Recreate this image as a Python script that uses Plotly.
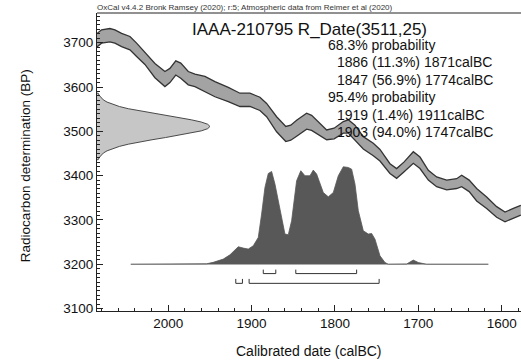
import plotly.graph_objects as go

# ---------------- data ----------------
cal_year = [2088, 2080, 2070, 2064, 2056, 2046, 2038, 2028, 2016, 2004, 1998, 1991, 1985, 1976, 1968,
            1956, 1944, 1928, 1914, 1902, 1890, 1882, 1870, 1859, 1853, 1846, 1834, 1828, 1818, 1810,
            1801, 1790, 1784, 1776, 1766, 1754, 1746, 1734, 1726, 1717, 1706, 1698, 1688, 1678, 1666,
            1654, 1648, 1639, 1630, 1618, 1606, 1596, 1586, 1577]
curve_bp = [3702, 3714, 3717, 3714, 3706, 3699, 3684, 3664, 3637, 3618, 3626, 3643, 3637, 3620, 3615,
            3607, 3595, 3583, 3571, 3571, 3562, 3548, 3516, 3494, 3497, 3507, 3523, 3519, 3504, 3492,
            3495, 3509, 3511, 3497, 3474, 3459, 3446, 3416, 3405, 3420, 3441, 3429, 3401, 3386, 3379,
            3382, 3388, 3377, 3357, 3339, 3318, 3307, 3315, 3322]
curve_err = [15, 15, 15, 15, 15, 15, 15, 13, 16, 17, 16, 16, 17, 15, 14,
             17, 17, 16, 15, 15, 15, 15, 17, 17, 17, 18, 18, 17, 14, 11,
             12, 13, 15, 17, 14, 14, 13, 11, 11, 11, 13, 13, 11, 11, 11,
             11, 13, 13, 14, 13, 12, 11, 11, 11]

post_year = [2045, 1962, 1954, 1946, 1934, 1926, 1916, 1910, 1904, 1898, 1892, 1888, 1884, 1880, 1876,
             1872, 1866, 1860, 1856, 1852, 1846, 1841, 1836, 1830, 1826, 1822, 1814, 1808, 1802, 1796,
             1790, 1784, 1780, 1776, 1772, 1766, 1760, 1756, 1752, 1746, 1740, 1736, 1714, 1706, 1700,
             1690, 1616]
post_prob = [0, 0, 0.005, 0.02, 0.053, 0.097, 0.18, 0.166, 0.156, 0.19, 0.275, 0.515, 0.788, 0.931, 0.952,
             0.823, 0.549, 0.31, 0.303, 0.446, 0.856, 0.959, 0.908, 0.908, 0.966, 0.925, 0.736, 0.692, 0.736, 0.908,
             1.0, 0.993, 0.976, 0.823, 0.549, 0.344, 0.31, 0.316, 0.258, 0.087, 0.018, 0, 0.003, 0.043, 0.018,
             0, 0]

rdate_bp = [3436, 3441, 3446, 3451, 3456, 3461, 3466, 3471, 3476, 3481, 3486, 3491, 3496, 3501, 3506,
            3511, 3516, 3521, 3526, 3531, 3536, 3541, 3546, 3551, 3556, 3561, 3566, 3571, 3576, 3581, 3586]
rdate_dens = [0.011, 0.020, 0.034, 0.056, 0.089, 0.135, 0.198, 0.278, 0.375, 0.487, 0.607, 0.726, 0.835, 0.923, 0.980,
              1.0, 0.980, 0.923, 0.835, 0.726, 0.607, 0.487, 0.375, 0.278, 0.198, 0.135, 0.089, 0.056, 0.034, 0.020, 0.011]

range68 = [[1886, 1871], [1847, 1774]]
range95 = [[1919, 1911], [1903, 1747]]

x_ticks = [2000, 1900, 1800, 1700, 1600]
y_ticks = [3100, 3200, 3300, 3400, 3500, 3600, 3700]

title = "IAAA-210795 R_Date(3511,25)"
header = "OxCal v4.4.2 Bronk Ramsey (2020); r:5; Atmospheric data from Reimer et al (2020)"
prob_lines = ["68.3% probability", "1886 (11.3%) 1871calBC", "1847 (56.9%) 1774calBC",
              "95.4% probability", "1919 (1.4%) 1911calBC", "1903 (94.0%) 1747calBC"]

# ---------------- layout constants ----------------
X_LEFT, X_RIGHT = 2085.5, 1576.8
Y_BOT, Y_TOP = 3094.6, 3767
BASE_BP = 3200
POST_SCALE = 220
GAUSS_W = 135.5
FONT = "Liberation Sans, Arial, sans-serif"

fig = go.Figure()

# calibration curve band
upper = [b + e for b, e in zip(curve_bp, curve_err)]
lower = [b - e for b, e in zip(curve_bp, curve_err)]
fig.add_trace(go.Scatter(x=cal_year, y=upper, mode="lines",
                         line=dict(color="#333333", width=1.3), hoverinfo="skip"))
fig.add_trace(go.Scatter(x=cal_year, y=lower, mode="lines", fill="tonexty",
                         fillcolor="#a3a3a3", line=dict(color="#333333", width=1.3), hoverinfo="skip"))

# radiocarbon date distribution on the y axis
gx = [X_LEFT] + [X_LEFT - GAUSS_W * d for d in rdate_dens] + [X_LEFT]
gy = [rdate_bp[0]] + rdate_bp + [rdate_bp[-1]]
fig.add_trace(go.Scatter(x=gx, y=gy, mode="lines", fill="toself", fillcolor="#c6c6c6",
                         line=dict(color="#4a4a4a", width=1), hoverinfo="skip"))

# baseline for posterior
fig.add_trace(go.Scatter(x=[post_year[0], post_year[-1]], y=[BASE_BP, BASE_BP], mode="lines",
                         line=dict(color="#c8c8c8", width=1.5), hoverinfo="skip"))

# calibrated distribution
py = [BASE_BP + POST_SCALE * p for p in post_prob]
fig.add_trace(go.Scatter(x=post_year, y=py, mode="lines", fill="toself", fillcolor="#585858",
                         line=dict(color="#585858", width=0.8), hoverinfo="skip"))

# range brackets
def brackets(ranges, yline, ytop):
    xs, ys = [], []
    for a, b in ranges:
        xs += [a, a, b, b, None]
        ys += [ytop, yline, yline, ytop, None]
    return xs, ys

bx, by = brackets(range68, 3179, 3188)
fig.add_trace(go.Scatter(x=bx, y=by, mode="lines", line=dict(color="#333333", width=1), hoverinfo="skip"))
bx, by = brackets(range95, 3157, 3167)
fig.add_trace(go.Scatter(x=bx, y=by, mode="lines", line=dict(color="#333333", width=1), hoverinfo="skip"))

# ---------------- annotations ----------------
L, R, T, B = 97, 521, 13, 310.7
def px(x):
    return (x - L) / (R - L)
def py_(y):
    return (B - y) / (B - T)

ann = []
ann.append(dict(text=header, x=px(95), y=py_(8), xref="paper", yref="paper", xanchor="left",
                yanchor="middle", showarrow=False, font=dict(size=8, color="#333", family=FONT)))
ann.append(dict(text=title, x=px(309), y=py_(29), xref="paper", yref="paper", xanchor="center",
                yanchor="middle", showarrow=False, font=dict(size=17, color="#111", family=FONT)))
line_x = [326, 335, 335, 326, 335, 335]
line_y = [45, 62, 79.5, 97, 114.5, 132]
for t, lx, ly in zip(prob_lines, line_x, line_y):
    ann.append(dict(text=t, x=px(lx), y=py_(ly), xref="paper", yref="paper", xanchor="left",
                    yanchor="middle", showarrow=False, font=dict(size=14, color="#111", family=FONT)))
ann.append(dict(text="Calibrated date (calBC)", x=px(309), y=py_(350.5), xref="paper", yref="paper",
                xanchor="center", yanchor="middle", showarrow=False,
                font=dict(size=14, color="#111", family=FONT)))
ann.append(dict(text="Radiocarbon determination (BP)", x=px(25), y=py_(166), xref="paper", yref="paper",
                xanchor="center", yanchor="middle", showarrow=False, textangle=-90,
                font=dict(size=13.5, color="#111", family=FONT)))

fig.update_layout(
    width=521, height=360,
    margin=dict(l=97, r=0, t=13, b=49, pad=0),
    paper_bgcolor="white", plot_bgcolor="white",
    showlegend=False,
    annotations=ann,
    shapes=[dict(type="line", xref="paper", yref="paper", x0=0, x1=1, y0=1, y1=1,
                 line=dict(color="#222", width=1))],
    xaxis=dict(range=[X_LEFT, X_RIGHT], showline=True, linecolor="#222", linewidth=1,
               ticks="inside", ticklen=6, tickcolor="#222", tickvals=x_ticks,
               ticktext=[str(v) for v in x_ticks],
               minor=dict(dtick=20, ticks="inside", ticklen=3, tickcolor="#222", showgrid=False),
               showgrid=False, zeroline=False, tickfont=dict(size=13.5, color="#111", family=FONT)),
    yaxis=dict(range=[Y_BOT, Y_TOP], showline=True, linecolor="#222", linewidth=1,
               ticks="inside", ticklen=6, tickcolor="#222", tickvals=y_ticks,
               ticktext=[str(v) for v in y_ticks],
               minor=dict(dtick=10, ticks="inside", ticklen=3, tickcolor="#222", showgrid=False),
               showgrid=False, zeroline=False, tickfont=dict(size=13.5, color="#111", family=FONT)),
)

fig.write_html("out.html", config={"displayModeBar": False, "staticPlot": True},
               post_script="document.body.style.margin='0';document.body.style.padding='0';")
